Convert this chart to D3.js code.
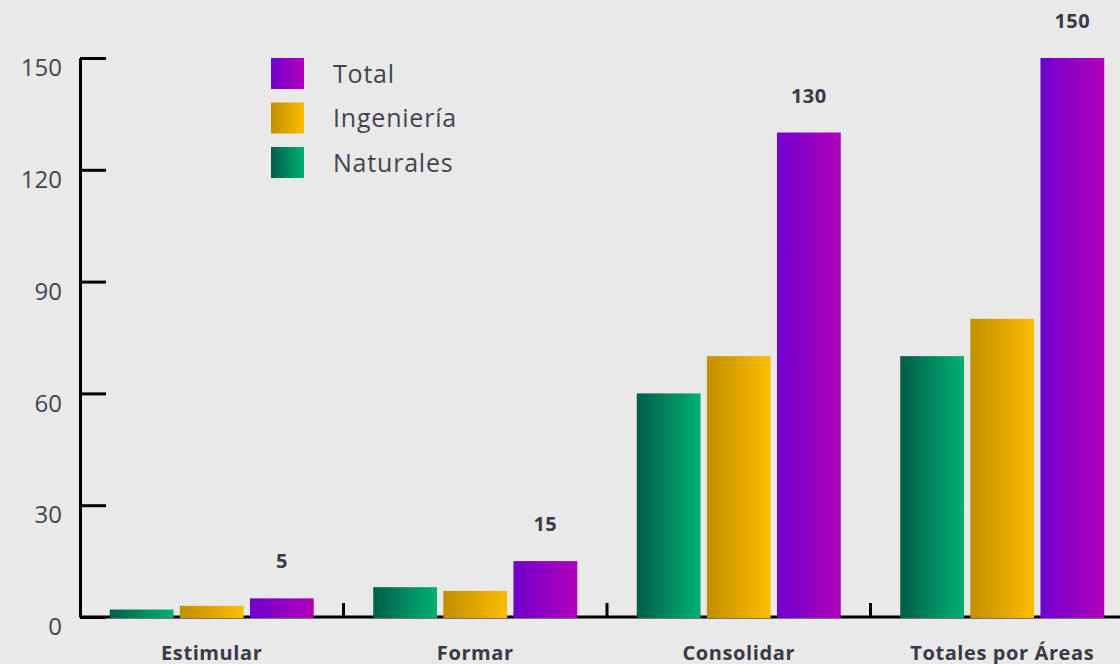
<!DOCTYPE html>
<html><head><meta charset="utf-8">
<script src="https://cdn.jsdelivr.net/npm/d3@7"></script>
<style>
html,body{margin:0;padding:0;background:#e9e9e9;}
svg{display:block;font-family:"Open Sans",sans-serif;}
</style></head>
<body>
<script>
const categories = ["Estimular", "Formar", "Consolidar", "Totales por Áreas"];
const seriesNames = ["Naturales", "Ingeniería", "Total"];
const naturales = [2, 8, 60, 70];
const ingenieria = [3, 7, 70, 80];
const total = [5, 15, 130, 150];
const yTicks = [0, 30, 60, 90, 120, 150];
const legendOrder = ["Total", "Ingeniería", "Naturales"];

const W = 1120, H = 664;
const svg = d3.select("body").append("svg").attr("width", W).attr("height", H);
svg.append("rect").attr("width", W).attr("height", H).attr("fill", "#e9e9e9");

const defs = svg.append("defs");
const grads = {
  "Naturales": ["#005e4a", "#00b172"],
  "Ingeniería": ["#c28f00", "#fcbd00"],
  "Total": ["#7100cc", "#b000b9"]
};
const gid = {};
Object.entries(grads).forEach(([k, c], i) => {
  const id = "g" + i;
  gid[k] = id;
  const g = defs.append("linearGradient").attr("id", id)
    .attr("x1", "0%").attr("x2", "100%").attr("y1", "0%").attr("y2", "0%");
  g.append("stop").attr("offset", "0%").attr("stop-color", c[0]);
  g.append("stop").attr("offset", "100%").attr("stop-color", c[1]);
});

const x0 = d3.scaleBand().domain(categories).range([80, 1134]).padding(0);
const x1 = d3.scaleBand().domain(seriesNames).range([0, 204]).paddingInner(0.09).paddingOuter(0);
const y = d3.scaleLinear().domain([0, 150]).range([617, 58]);

const rows = categories.map((c, i) => ({cat: c, vals: [
  {s: "Naturales", v: naturales[i]},
  {s: "Ingeniería", v: ingenieria[i]},
  {s: "Total", v: total[i]}
]}));

// y axis
const yAxis = svg.append("g").attr("transform", "translate(80,0)")
  .call(d3.axisLeft(y).tickValues(yTicks).tickSizeInner(-26).tickSizeOuter(0).tickPadding(18));
yAxis.select(".domain").attr("stroke", "#000").attr("stroke-width", 3);
yAxis.selectAll(".tick line").attr("stroke", "#000").attr("stroke-width", 3);
yAxis.selectAll(".tick text").attr("fill", "#44444f").attr("font-size", 24)
  .attr("font-family", "'Open Sans',sans-serif").attr("font-weight", 400)
  .attr("dy", "0.32em").attr("transform", "translate(0,10)");

// x axis line
svg.append("line").attr("x1", 80).attr("x2", W).attr("y1", y(0)).attr("y2", y(0))
  .attr("stroke", "#000").attr("stroke-width", 3);

// band boundary ticks
svg.selectAll(".bt").data(categories.slice(1)).enter().append("line")
  .attr("x1", d => x0(d)).attr("x2", d => x0(d))
  .attr("y1", y(0)).attr("y2", y(0) - 14)
  .attr("stroke", "#000").attr("stroke-width", 3);

// bars
const groups = svg.selectAll(".grp").data(rows).enter().append("g")
  .attr("transform", d => `translate(${x0(d.cat) + (x0.bandwidth() - 204) / 2},0)`);

groups.selectAll("rect").data(d => d.vals).enter().append("rect")
  .attr("x", d => x1(d.s)).attr("width", x1.bandwidth())
  .attr("y", d => y(d.v)).attr("height", d => y(0) - y(d.v) + 1)
  .attr("fill", d => `url(#${gid[d.s]})`);

// value labels on Total
groups.append("text")
  .attr("x", x1("Total") + x1.bandwidth() / 2)
  .attr("y", (d, i) => y(total[i]) - 30)
  .attr("text-anchor", "middle").attr("font-weight", 700).attr("font-size", 20)
  .attr("letter-spacing", 0.5)
  .attr("fill", "#3a3a46").text((d, i) => total[i]);

// category labels
svg.selectAll(".cl").data(categories).enter().append("text")
  .attr("x", d => x0(d) + x0.bandwidth() / 2)
  .attr("y", 660).attr("text-anchor", "middle")
  .attr("font-weight", 700).attr("font-size", 20).attr("letter-spacing", 0.6)
  .attr("fill", "#3a3a46")
  .text(d => d);

// legend
const lg = svg.selectAll(".lg").data(legendOrder).enter().append("g")
  .attr("transform", (d, i) => `translate(271,${58 + i * 44.5})`);
lg.append("rect").attr("width", 33).attr("height", 31).attr("fill", d => `url(#${gid[d]})`);
lg.append("text").attr("x", 62).attr("y", 16).attr("dy", "0.35em")
  .attr("font-size", 25).attr("letter-spacing", 0.8)
  .attr("fill", "#44444f").text(d => d);
</script>
</body></html>
